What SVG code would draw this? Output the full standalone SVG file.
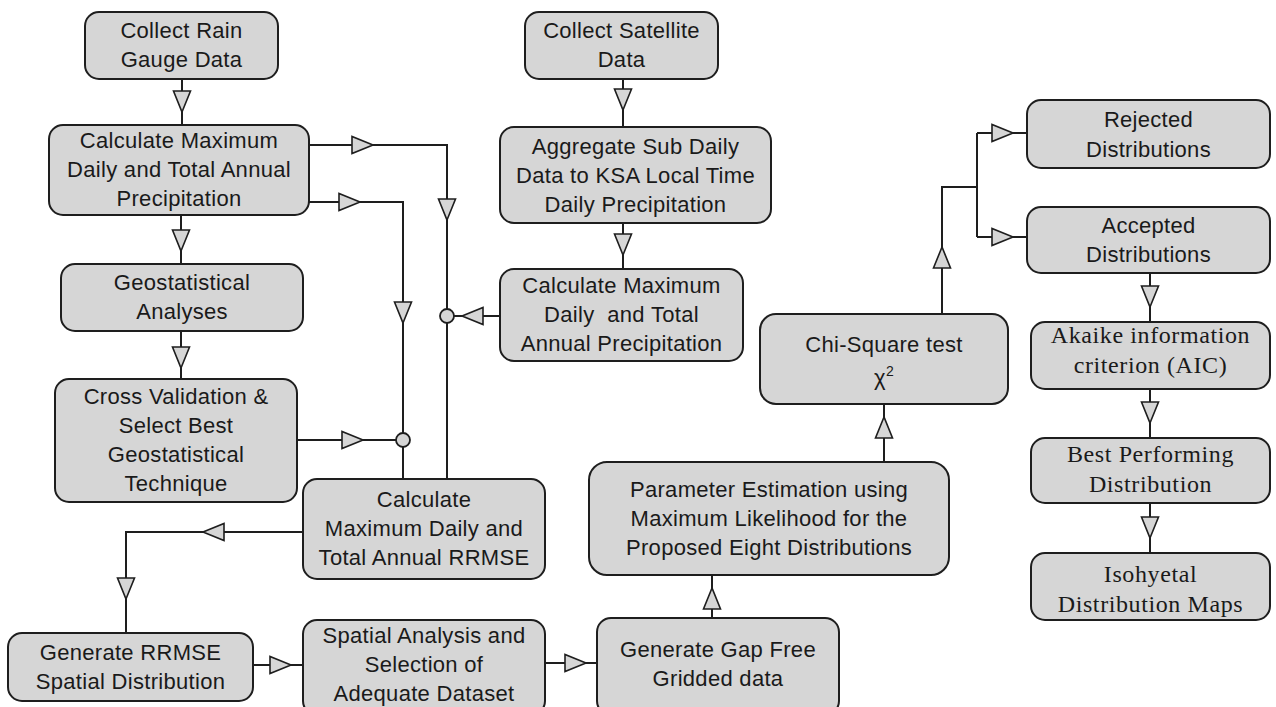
<svg xmlns="http://www.w3.org/2000/svg" xmlns:xlink="http://www.w3.org/1999/xlink" width="1276" height="707" viewBox="0 0 1276 707">
<style>
.box{fill:#d6d6d6;stroke:#1e1e1e;stroke-width:2}
.t{font-family:"Liberation Sans",Arial,sans-serif;font-size:22px;letter-spacing:0.3px;fill:#1a1a1a;text-anchor:middle}
.s{font-family:"Liberation Serif","Times New Roman",serif;font-size:24px;letter-spacing:0.6px;fill:#1a1a1a;text-anchor:middle}
.ln{fill:none;stroke:#1e1e1e;stroke-width:2}
.ah{fill:#d6d6d6;stroke:#1e1e1e;stroke-width:1.6;stroke-linejoin:miter}
.dot{fill:#d6d6d6;stroke:#1e1e1e;stroke-width:1.8}
</style>
<defs>
<path id="ah" class="ah" d="M0,0 L-21,-8.5 L-21,8.5 Z"/>
</defs>
<rect width="1276" height="707" fill="#ffffff"/>

<g id="connectors">
<path class="ln" d="M182,79 V125"/>
<path class="ln" d="M181,215 V264"/>
<path class="ln" d="M181,331 V379"/>
<path class="ln" d="M309,145 H447 V479"/>
<path class="ln" d="M309,202 H403 V479"/>
<path class="ln" d="M500,316 H454"/>
<path class="ln" d="M297,440 H396"/>
<path class="ln" d="M623,79 V127"/>
<path class="ln" d="M623,223 V269"/>
<path class="ln" d="M303,532 H126 V633"/>
<path class="ln" d="M253,665 H303"/>
<path class="ln" d="M545,663 H597"/>
<path class="ln" d="M712,618 V575"/>
<path class="ln" d="M884,462 V404"/>
<path class="ln" d="M942,314 V187 H977"/>
<path class="ln" d="M977,133 V237"/>
<path class="ln" d="M977,133 H1027"/>
<path class="ln" d="M977,237 H1027"/>
<path class="ln" d="M1150,273 V322"/>
<path class="ln" d="M1150,389 V438"/>
<path class="ln" d="M1150,503 V553"/>

<use xlink:href="#ah" transform="translate(182,112) rotate(90)"/>
<use xlink:href="#ah" transform="translate(181,251) rotate(90)"/>
<use xlink:href="#ah" transform="translate(181,368) rotate(90)"/>
<use xlink:href="#ah" transform="translate(373,145)"/>
<use xlink:href="#ah" transform="translate(447,220) rotate(90)"/>
<use xlink:href="#ah" transform="translate(360,202)"/>
<use xlink:href="#ah" transform="translate(403,323) rotate(90)"/>
<use xlink:href="#ah" transform="translate(462,316) rotate(180)"/>
<use xlink:href="#ah" transform="translate(363,440)"/>
<use xlink:href="#ah" transform="translate(623,110) rotate(90)"/>
<use xlink:href="#ah" transform="translate(623,255) rotate(90)"/>
<use xlink:href="#ah" transform="translate(203,532) rotate(180)"/>
<use xlink:href="#ah" transform="translate(126,599) rotate(90)"/>
<use xlink:href="#ah" transform="translate(291,665)"/>
<use xlink:href="#ah" transform="translate(586,663)"/>
<use xlink:href="#ah" transform="translate(712,588) rotate(-90)"/>
<use xlink:href="#ah" transform="translate(884,417) rotate(-90)"/>
<use xlink:href="#ah" transform="translate(942,247) rotate(-90)"/>
<use xlink:href="#ah" transform="translate(1013,133)"/>
<use xlink:href="#ah" transform="translate(1013,237)"/>
<use xlink:href="#ah" transform="translate(1150,307) rotate(90)"/>
<use xlink:href="#ah" transform="translate(1150,423) rotate(90)"/>
<use xlink:href="#ah" transform="translate(1150,538) rotate(90)"/>

<circle class="dot" cx="447" cy="316" r="7"/>
<circle class="dot" cx="403" cy="440" r="7"/>
</g>

<g id="n-rain">
<rect class="box" x="85" y="12" width="193" height="67" rx="14"/>
<text class="t" x="181.5" y="38">Collect Rain</text>
<text class="t" x="181.5" y="67">Gauge Data</text>
</g>
<g id="n-calc-gauge">
<rect class="box" x="49" y="125" width="260" height="90" rx="14"/>
<text class="t" x="179" y="148">Calculate Maximum</text>
<text class="t" x="179" y="177">Daily and Total Annual</text>
<text class="t" x="179" y="206">Precipitation</text>
</g>
<g id="n-geostat">
<rect class="box" x="61" y="264" width="242" height="67" rx="14"/>
<text class="t" x="182" y="290">Geostatistical</text>
<text class="t" x="182" y="319">Analyses</text>
</g>
<g id="n-cross">
<rect class="box" x="55" y="379" width="242" height="123" rx="14"/>
<text class="t" x="176" y="404">Cross Validation &amp;</text>
<text class="t" x="176" y="433">Select Best</text>
<text class="t" x="176" y="462">Geostatistical</text>
<text class="t" x="176" y="491">Technique</text>
</g>
<g id="n-rrmse">
<rect class="box" x="303" y="479" width="242" height="100" rx="14"/>
<text class="t" x="424" y="507">Calculate</text>
<text class="t" x="424" y="536">Maximum Daily and</text>
<text class="t" x="424" y="565">Total Annual RRMSE</text>
</g>
<g id="n-gen-rrmse">
<rect class="box" x="8" y="633" width="245" height="68" rx="14"/>
<text class="t" x="130.5" y="660">Generate RRMSE</text>
<text class="t" x="130.5" y="689">Spatial Distribution</text>
</g>
<g id="n-spatial">
<rect class="box" x="303" y="620" width="242" height="95" rx="14"/>
<text class="t" x="424" y="643">Spatial Analysis and</text>
<text class="t" x="424" y="672">Selection of</text>
<text class="t" x="424" y="701">Adequate Dataset</text>
</g>
<g id="n-gapfree">
<rect class="box" x="597" y="618" width="242" height="97" rx="14"/>
<text class="t" x="718" y="657">Generate Gap Free</text>
<text class="t" x="718" y="686">Gridded data</text>
</g>
<g id="n-satellite">
<rect class="box" x="525" y="12" width="193" height="67" rx="14"/>
<text class="t" x="621.5" y="38">Collect Satellite</text>
<text class="t" x="621.5" y="67">Data</text>
</g>
<g id="n-aggregate">
<rect class="box" x="500" y="127" width="271" height="96" rx="14"/>
<text class="t" x="635.5" y="154">Aggregate Sub Daily</text>
<text class="t" x="635.5" y="183">Data to KSA Local Time</text>
<text class="t" x="635.5" y="212">Daily Precipitation</text>
</g>
<g id="n-calc-sat">
<rect class="box" x="500" y="269" width="243" height="92" rx="14"/>
<text class="t" x="621.5" y="293">Calculate Maximum</text>
<text class="t" x="621.5" y="322" style="white-space:pre">Daily  and Total</text>
<text class="t" x="621.5" y="351">Annual Precipitation</text>
</g>
<g id="n-param">
<rect class="box" x="589" y="462" width="360" height="113" rx="18"/>
<text class="t" x="769" y="497">Parameter Estimation using</text>
<text class="t" x="769" y="526">Maximum Likelihood for the</text>
<text class="t" x="769" y="555">Proposed Eight Distributions</text>
</g>
<g id="n-chi">
<rect class="box" x="760" y="314" width="248" height="90" rx="16"/>
<text class="t" x="884" y="352">Chi-Square test</text>
<text class="t" x="884" y="385">χ<tspan dy="-9" font-size="14">2</tspan></text>
</g>
<g id="n-rejected">
<rect class="box" x="1027" y="100" width="243" height="68" rx="14"/>
<text class="t" x="1148.5" y="127">Rejected</text>
<text class="t" x="1148.5" y="157">Distributions</text>
</g>
<g id="n-accepted">
<rect class="box" x="1027" y="207" width="243" height="66" rx="14"/>
<text class="t" x="1148.5" y="233">Accepted</text>
<text class="t" x="1148.5" y="262">Distributions</text>
</g>
<g id="n-aic">
<rect class="box" x="1031" y="322" width="239" height="67" rx="14"/>
<text class="s" x="1150.5" y="343">Akaike information</text>
<text class="s" x="1150.5" y="373">criterion (AIC)</text>
</g>
<g id="n-best">
<rect class="box" x="1031" y="438" width="239" height="65" rx="14"/>
<text class="s" x="1150.5" y="462">Best Performing</text>
<text class="s" x="1150.5" y="492">Distribution</text>
</g>
<g id="n-isohyetal">
<rect class="box" x="1031" y="553" width="239" height="67" rx="14"/>
<text class="s" x="1150.5" y="582">Isohyetal</text>
<text class="s" x="1150.5" y="612">Distribution Maps</text>
</g>
</svg>
